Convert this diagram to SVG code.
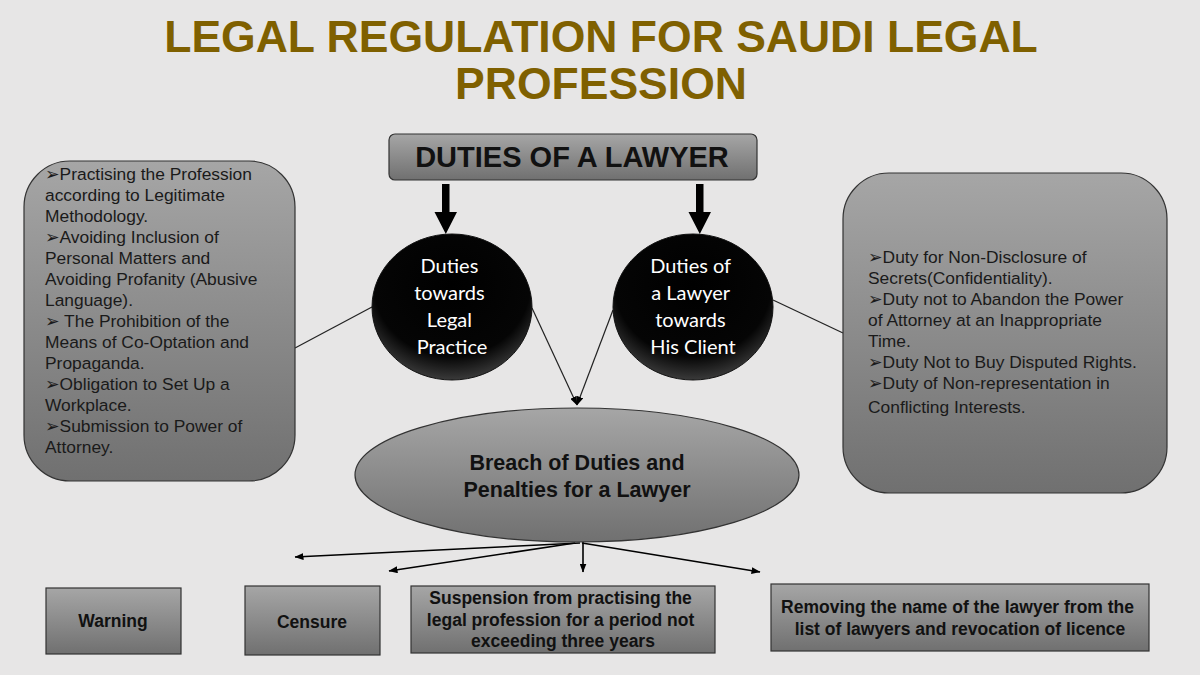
<svg xmlns="http://www.w3.org/2000/svg" width="1200" height="675" viewBox="0 0 1200 675">
<defs>
<linearGradient id="gray" x1="0" y1="0" x2="0" y2="1">
<stop offset="0" stop-color="#A6A6A6"/>
<stop offset="1" stop-color="#707070"/>
</linearGradient>
<radialGradient id="dark" cx="0.5" cy="0.35" r="0.65">
<stop offset="0" stop-color="#000"/>
<stop offset="0.75" stop-color="#050505"/>
<stop offset="1" stop-color="#3a3a3a"/>
</radialGradient>
<marker id="ah" markerWidth="9" markerHeight="7" refX="8.5" refY="3.5" orient="auto" markerUnits="userSpaceOnUse">
<path d="M0,0 L9,3.5 L0,7 z" fill="#000"/>
</marker>
</defs>
<style>
.title{font-family:"Liberation Sans",Arial,sans-serif;font-weight:bold;font-size:44.5px;fill:#7F6000;text-anchor:middle}
.box{fill:url(#gray);stroke:#333;stroke-width:1.2}
.list{font-family:"Liberation Sans","DejaVu Sans",sans-serif;font-size:17.4px;fill:#1a1a1a}
.circ{fill:url(#dark);stroke:#111;stroke-width:1}
.ctext{font-family:Lato,"Open Sans",sans-serif;font-size:20px;fill:#fff;text-anchor:middle}
.btext{font-family:"Liberation Sans",Arial,sans-serif;font-weight:bold;font-size:17.5px;fill:#111;text-anchor:middle}
.conn{stroke:#222;stroke-width:1.2;fill:none}
.arr{stroke:#000;stroke-width:1.6;fill:none;marker-end:url(#ah)}
</style>
<rect width="1200" height="675" fill="#E7E6E6"/>
<g id="title">
<text class="title" x="601" y="52">LEGAL REGULATION FOR SAUDI LEGAL</text>
<text class="title" x="601" y="99">PROFESSION</text>
</g>
<g id="connectors">
<path d="M442,184 H449.5 V212 H457 L445.8,234 L434.5,212 H442 Z" fill="#000"/>
<path d="M696,184 H703.5 V212 H711 L699.8,234 L688.5,212 H696 Z" fill="#000"/>
<line class="conn" x1="295" y1="348" x2="372" y2="307"/>
<line class="conn" x1="773" y1="300" x2="843" y2="333"/>
<line class="conn" x1="532" y1="308" x2="577" y2="405" marker-end="url(#ah)"/>
<line class="conn" x1="613" y1="310" x2="577" y2="405" marker-end="url(#ah)"/>
<line class="arr" x1="580" y1="543" x2="295" y2="557"/>
<line class="arr" x1="575" y1="543" x2="389" y2="571"/>
<line class="arr" x1="583" y1="541" x2="583" y2="572"/>
<line class="arr" x1="582" y1="543" x2="760" y2="572"/>
</g>
<g id="duties">
<rect class="box" x="389" y="134" width="368" height="46" rx="6"/>
<text x="572" y="167" font-family="Liberation Sans,Arial,sans-serif" font-weight="bold" font-size="29" fill="#111" text-anchor="middle">DUTIES OF A LAWYER</text>
</g>
<g id="legal-practice-list">
<rect class="box" x="24" y="161" width="271" height="320" rx="46"/>
<text class="list">
<tspan x="45" y="180">➢Practising the Profession</tspan>
<tspan x="45" y="201">according to Legitimate</tspan>
<tspan x="45" y="222">Methodology.</tspan>
<tspan x="45" y="243">➢Avoiding Inclusion of</tspan>
<tspan x="45" y="264">Personal Matters and</tspan>
<tspan x="45" y="285">Avoiding Profanity (Abusive</tspan>
<tspan x="45" y="306">Language).</tspan>
<tspan x="45" y="327">➢ The Prohibition of the</tspan>
<tspan x="45" y="348">Means of Co-Optation and</tspan>
<tspan x="45" y="369">Propaganda.</tspan>
<tspan x="45" y="390">➢Obligation to Set Up a</tspan>
<tspan x="45" y="411">Workplace.</tspan>
<tspan x="45" y="432">➢Submission to Power of</tspan>
<tspan x="45" y="453">Attorney.</tspan>
</text>
</g>
<g id="client-list">
<rect class="box" x="843" y="173" width="324" height="320" rx="46"/>
<text class="list">
<tspan x="868" y="263">➢Duty for Non-Disclosure of</tspan>
<tspan x="868" y="284">Secrets(Confidentiality).</tspan>
<tspan x="868" y="305">➢Duty not to Abandon the Power</tspan>
<tspan x="868" y="326">of Attorney at an Inappropriate</tspan>
<tspan x="868" y="347">Time.</tspan>
<tspan x="868" y="368">➢Duty Not to Buy Disputed Rights.</tspan>
<tspan x="868" y="389">➢Duty of Non-representation in</tspan>
<tspan x="868" y="413">Conflicting Interests.</tspan>
</text>
</g>
<g id="legal-practice">
<ellipse class="circ" cx="452" cy="307" rx="80" ry="73"/>
<text class="ctext">
<tspan x="452" y="273">Duties</tspan>
<tspan x="452" y="300">towards</tspan>
<tspan x="452" y="327">Legal</tspan>
<tspan x="452" y="354">Practice</tspan>
</text>
</g>
<g id="client">
<ellipse class="circ" cx="693" cy="307" rx="80" ry="73"/>
<text class="ctext">
<tspan x="693" y="273">Duties of</tspan>
<tspan x="693" y="300">a Lawyer</tspan>
<tspan x="693" y="327">towards</tspan>
<tspan x="693" y="354">His Client</tspan>
</text>
</g>
<g id="breach">
<ellipse class="box" cx="577" cy="475" rx="222" ry="67"/>
<text x="577" y="470" font-family="Liberation Sans,Arial,sans-serif" font-weight="bold" font-size="21.5" fill="#111" text-anchor="middle">Breach of Duties and</text>
<text x="577" y="497" font-family="Liberation Sans,Arial,sans-serif" font-weight="bold" font-size="21.5" fill="#111" text-anchor="middle">Penalties for a Lawyer</text>
</g>
<g id="warning">
<rect class="box" x="46" y="588" width="135" height="66"/>
<text class="btext" x="113" y="627">Warning</text>
</g>
<g id="censure">
<rect class="box" x="245" y="586" width="135" height="69"/>
<text class="btext" x="312" y="628">Censure</text>
</g>
<g id="suspension">
<rect class="box" x="411" y="586" width="304" height="67"/>
<text class="btext">
<tspan x="563" y="604">Suspension from practising the</tspan>
<tspan x="563" y="626">legal profession for a period not</tspan>
<tspan x="563" y="647">exceeding three years</tspan>
</text>
</g>
<g id="removal">
<rect class="box" x="771" y="584" width="378" height="67"/>
<text class="btext">
<tspan x="960" y="613">Removing the name of the lawyer from the</tspan>
<tspan x="960" y="635">list of lawyers and revocation of licence</tspan>
</text>
</g>
</svg>
